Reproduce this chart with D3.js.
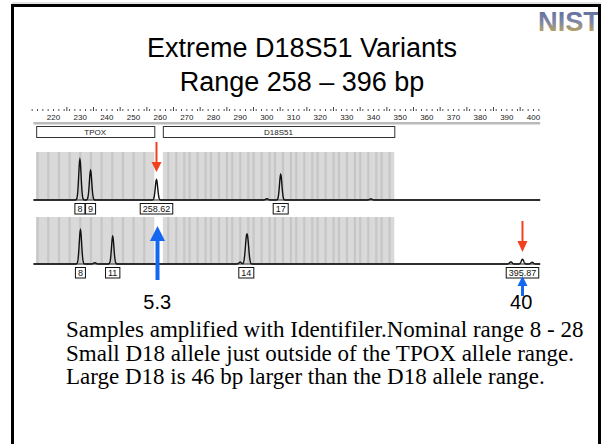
<!DOCTYPE html>
<html><head><meta charset="utf-8">
<script src="https://cdn.jsdelivr.net/npm/d3@7"></script>
<style>html,body{margin:0;padding:0;background:#fff;}svg{display:block;}</style>
</head><body>
<script>
// ---------- data ----------
const titleLines = ["Extreme D18S51 Variants", "Range 258 \u2013 396 bp"];
const axisTicks = [220,230,240,250,260,270,280,290,300,310,320,330,340,350,360,370,380,390,400];
const markerNames = ["TPOX", "D18S51"];
const markerStart = [213.5, 261.0];
const markerEnd = [257.8, 347.8];
const binsTPOX = [214,218,222,226,230,234,238,242,246,250,254];
const binsD18 = [263,266,269,271,274,277,279,282,285,287,290,293,295,298,301,303,306,309,311,314,317,319,322,325,327,330,333,335,338,341,343,346];
// panel 1 peaks (bp, relative height 0-1000)
const p1Pos = [229.9, 233.9, 258.62, 305.2, 300.0, 339.0];
const p1Hgt = [920, 670, 460, 580, 30, 25];
const p1Labels = ["8", "9", "258.62", "17"];
const p1LabelPos = [229.9, 233.9, 258.62, 305.2];
// panel 2 peaks
const p2Pos = [230.1, 242.2, 292.3, 292.9, 290.0, 235.5, 395.87, 391.5, 399.5];
const p2Hgt = [790, 640, 470, 400, 45, 30, 110, 50, 40];
const p2Labels = ["8", "11", "14", "395.87"];
const p2LabelPos = [230.1, 242.2, 292.3, 395.87];
const alleleCalls = ["5.3", "40"];
const alleleCallPos = [258.9, 395.4];
const notes = [
  "Samples amplified with Identifiler.Nominal range 8 - 28",
  "Small D18 allele just outside of the TPOX allele range.",
  "Large D18 is 46 bp larger than the D18 allele range."
];

// ---------- drawing ----------
const W = 606, H = 444;
const svg = d3.select("body").append("svg").attr("width", W).attr("height", H);
const x = d3.scaleLinear().domain([220, 400]).range([53.5, 533.5]);
const dom = [212.5, 402.5];

// frame
svg.append("line").attr("x1", 12).attr("x2", 601).attr("y1", 3).attr("y2", 3).attr("stroke", "#c8c8c8").attr("stroke-width", 1);
svg.append("rect").attr("x", 12.5).attr("y", 5.5).attr("width", 587).attr("height", 460)
  .attr("fill", "none").attr("stroke", "#000").attr("stroke-width", 3);

// NIST logo
const defs = svg.append("defs");
const lg = defs.append("linearGradient").attr("id", "nistg").attr("x1", 0).attr("y1", 0).attr("x2", 0).attr("y2", 1);
lg.append("stop").attr("offset", "0%").attr("stop-color", "#55659e");
lg.append("stop").attr("offset", "50%").attr("stop-color", "#7e86a4");
lg.append("stop").attr("offset", "100%").attr("stop-color", "#d8ae38");
svg.append("text").attr("x", 538).attr("y", 31).text("NIST")
  .attr("font-family", "Liberation Sans, Arial, sans-serif").attr("font-weight", "bold")
  .attr("font-size", 28).attr("textLength", 62).attr("lengthAdjust", "spacingAndGlyphs")
  .attr("fill", "url(#nistg)");
svg.append("line").attr("x1", 599.5).attr("x2", 599.5).attr("y1", 4).attr("y2", 444).attr("stroke", "#000").attr("stroke-width", 3);

// title
svg.selectAll("text.title").data(titleLines).join("text").attr("class", "title")
  .attr("x", 302).attr("y", (d, i) => 57 + i * 34).attr("text-anchor", "middle")
  .attr("font-family", "Liberation Sans, Arial, sans-serif").attr("font-size", 27).attr("fill", "#000")
  .text(d => d);

// size axis
const axY = 123;
const axisG = svg.append("g");
const minorTicks = d3.range(212, 403, 2);
axisG.selectAll("line.minor").data(minorTicks).join("line")
  .attr("x1", d => x(d)).attr("x2", d => x(d)).attr("y1", 109).attr("y2", 111)
  .attr("stroke", "#555").attr("stroke-width", 1);
axisG.selectAll("line.major").data(axisTicks.map(d => d + 5).filter(d => d < 402)).join("line")
  .attr("x1", d => x(d)).attr("x2", d => x(d)).attr("y1", 107).attr("y2", 111)
  .attr("stroke", "#444").attr("stroke-width", 1);
axisG.selectAll("text").data(axisTicks).join("text")
  .attr("x", d => x(d)).attr("y", 120).attr("text-anchor", "middle")
  .attr("font-family", "Liberation Sans, Arial, sans-serif").attr("font-size", 8).attr("fill", "#222")
  .text(d => d);
axisG.append("line").attr("x1", x(dom[0])).attr("x2", x(dom[1])).attr("y1", axY).attr("y2", axY).attr("stroke", "#777").attr("stroke-width", 1);
axisG.append("line").attr("x1", x(dom[0])).attr("x2", x(dom[1])).attr("y1", axY + 1).attr("y2", axY + 1).attr("stroke", "#bbb").attr("stroke-width", 1);

// marker boxes
markerNames.forEach((m, i) => {
  const x0 = x(markerStart[i]), x1 = x(markerEnd[i]);
  svg.append("rect").attr("x", x0 + 0.5).attr("y", 126.5).attr("width", x1 - x0).attr("height", 11)
    .attr("fill", "#fff").attr("stroke", "#333").attr("stroke-width", 1);
  svg.append("text").attr("x", (x0 + x1) / 2).attr("y", 135).attr("text-anchor", "middle")
    .attr("font-family", "Liberation Sans, Arial, sans-serif").attr("font-size", 8).attr("fill", "#222").text(m);
});

function panel(top, base, pos, hgt, labels, labelPos) {
  const g = svg.append("g");
  const y = d3.scaleLinear().domain([0, 1000]).range([base, top + 4]);
  markerNames.forEach((m, i) => {
    g.append("rect").attr("x", x(markerStart[i])).attr("y", top).attr("width", x(markerEnd[i]) - x(markerStart[i]))
      .attr("height", base - top).attr("fill", "#d9d9d9");
  });
  g.selectAll("rect.bin").data(binsTPOX.concat(binsD18)).join("rect").attr("class", "bin")
    .attr("x", d => x(d) - 1).attr("y", top).attr("width", 2.2).attr("height", base - top).attr("fill", "#c6c6c6");
  g.append("line").attr("x1", x(dom[0])).attr("x2", x(dom[1])).attr("y1", base).attr("y2", base)
    .attr("stroke", "#666").attr("stroke-width", 1.6);
  const pts = [];
  const samples = new Set(d3.range(dom[0], dom[1] + 0.01, 0.5).map(v => +v.toFixed(2)));
  pos.forEach(p => { for (let k = -2; k <= 2.001; k += 0.1) samples.add(+(p + k).toFixed(2)); });
  const xs = Array.from(samples).sort((a, b) => a - b);
  xs.forEach(v => {
    let s = 0;
    pos.forEach((p, i) => { s += hgt[i] * Math.exp(-Math.pow((v - p) / 0.45, 2) / 2); });
    pts.push([v, s]);
  });
  g.append("path").datum(pts).attr("fill", "none").attr("stroke", "#111").attr("stroke-width", 1.4)
    .attr("d", d3.line().x(d => x(d[0])).y(d => y(d[1])));
  labels.forEach((t, i) => {
    const tx = g.append("text").attr("x", x(labelPos[i])).attr("y", base + 12).attr("text-anchor", "middle")
      .attr("font-family", "Liberation Sans, Arial, sans-serif").attr("font-size", 9).attr("fill", "#111").text(t);
    const w = tx.node().getComputedTextLength();
    g.insert("rect", "text").attr("x", x(labelPos[i]) - w / 2 - 2.5).attr("y", base + 3.5).attr("width", w + 5).attr("height", 10.5)
      .attr("fill", "#fff").attr("stroke", "#111").attr("stroke-width", 1);
  });
}
panel(152, 200, p1Pos, p1Hgt, p1Labels, p1LabelPos);
panel(217, 264, p2Pos, p2Hgt, p2Labels, p2LabelPos);

function arrow(xc, yTail, yTip, headLen, headW, sw, color) {
  const dir = yTip > yTail ? 1 : -1;
  const yBase = yTip - dir * headLen;
  svg.append("line").attr("x1", xc).attr("x2", xc).attr("y1", yTail).attr("y2", yBase).attr("stroke", color).attr("stroke-width", sw);
  svg.append("path").attr("d", `M${xc - headW / 2},${yBase}L${xc + headW / 2},${yBase}L${xc},${yTip}Z`).attr("fill", color);
}
const red = "#f2401c", blue = "#1467f0";
arrow(x(258.62), 142, 172, 10, 10, 2, red);
arrow(x(395.87), 221, 252, 11, 10, 2, red);
arrow(x(259.0), 280, 226, 15, 15, 4, blue);
arrow(x(395.87), 296, 276, 10, 10, 3, blue);

svg.selectAll("text.call").data(alleleCalls).join("text").attr("class", "call")
  .attr("x", (d, i) => x(alleleCallPos[i])).attr("y", 309).attr("text-anchor", "middle")
  .attr("font-family", "Liberation Sans, Arial, sans-serif").attr("font-size", 20).attr("fill", "#000").text(d => d);

svg.selectAll("text.note").data(notes).join("text").attr("class", "note")
  .attr("x", 66).attr("y", (d, i) => 337 + i * 23.5)
  .attr("font-family", "Liberation Serif, Times New Roman, serif").attr("font-size", 23).attr("fill", "#000").text(d => d);
</script>
</body></html>
